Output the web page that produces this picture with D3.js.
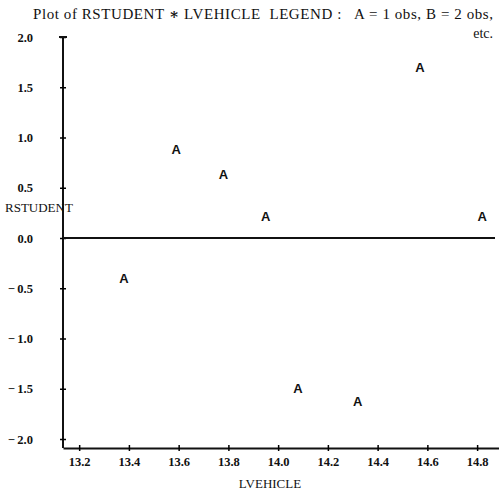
<!DOCTYPE html>
<html>
<head>
<meta charset="utf-8">
<script src="https://cdn.jsdelivr.net/npm/d3@7"></script>
<style>
  body { margin: 0; background: #fff; }
  text { font-family: "Liberation Serif", "DejaVu Serif", serif; fill: #111; }
  .pt { font-family: "Liberation Sans", Arial, sans-serif; font-weight: bold; font-size: 13px; }
</style>
</head>
<body>
<div id="plot"></div>
<script>
// svg params
var svgWidth = 499;
var svgHeight = 494;

// data
var lvehicle = [13.38, 13.59, 13.78, 13.95, 14.08, 14.32, 14.57, 14.82];
var rstudent = [-0.40, 0.88, 0.63, 0.21, -1.50, -1.63, 1.70, 0.21];
var symbols = ["A", "A", "A", "A", "A", "A", "A", "A"];

// tick labels
var xTicks = [13.2, 13.4, 13.6, 13.8, 14.0, 14.2, 14.4, 14.6, 14.8];
var yTicks = [2.0, 1.5, 1.0, 0.5, 0.0, -0.5, -1.0, -1.5, -2.0];

var svg = d3.select("#plot")
    .append("svg")
    .attr("width", svgWidth)
    .attr("height", svgHeight);

/// scales
var xScale = d3.scaleLinear()
    .domain([13.135, 14.888])
    .range([63, 499]);

var yScale = d3.scaleLinear()
    .domain([2.0, -2.0])
    .range([37, 439]);

var yBottom = 448;

// minus sign with a small gap, like the printed plot
var fmt = d => (d < 0 ? "\u2212\u2009" : "") + d3.format(".1f")(Math.abs(d));

/// x axis
var xAxisG = svg.append("g")
    .attr("transform", `translate(0,${yBottom})`)
    .call(d3.axisBottom(xScale).tickValues(xTicks).tickFormat(d3.format(".1f")).tickSizeOuter(0).tickPadding(5));

xAxisG.select(".domain").attr("stroke-width", 2).attr("stroke", "#111");
xAxisG.selectAll(".tick line").attr("y1", -3).attr("y2", 3).attr("stroke-width", 1.5);
xAxisG.selectAll(".tick text").attr("y", 9).attr("dy", "0.71em");

/// y axis
var yAxisG = svg.append("g")
    .attr("transform", `translate(${xScale.range()[0]},0)`)
    .call(d3.axisLeft(yScale).tickValues(yTicks).tickFormat(fmt).tickSizeOuter(0));

yAxisG.select(".domain")
    .attr("d", `M0,${yScale(2.0)}V${yBottom}`)
    .attr("stroke-width", 2)
    .attr("stroke", "#111");
yAxisG.selectAll(".tick line").attr("x1", -3).attr("x2", 3).attr("stroke-width", 1.5);
yAxisG.selectAll(".tick text").attr("x", -30);

// serif bold tick labels
svg.selectAll(".tick text")
    .style("font-family", "'Liberation Serif', serif")
    .style("font-weight", "bold")
    .style("font-size", "12.5px")
    .style("fill", "#111");

// cap on top of y axis
yAxisG.append("line")
    .attr("x1", -4).attr("x2", 4)
    .attr("y1", yScale(2.0)).attr("y2", yScale(2.0))
    .attr("stroke", "#111").attr("stroke-width", 2);

/// zero reference line
svg.append("line")
    .attr("x1", xScale.range()[0])
    .attr("x2", 495)
    .attr("y1", yScale(0))
    .attr("y2", yScale(0))
    .attr("stroke", "#111")
    .attr("stroke-width", 2);

/// plotting symbols
svg.selectAll(".pt")
    .data(lvehicle)
    .enter()
    .append("text")
    .attr("class", "pt")
    .attr("x", (d, i) => xScale(d))
    .attr("y", (d, i) => yScale(rstudent[i]))
    .attr("dy", "0.35em")
    .attr("text-anchor", "middle")
    .text((d, i) => symbols[i]);

/// labels
svg.append("text")
    .attr("x", 5)
    .attr("y", 212)
    .style("font-size", "13px")
    .text("RSTUDENT");

svg.append("text")
    .attr("x", 270)
    .attr("y", 488)
    .attr("text-anchor", "middle")
    .style("font-size", "13px")
    .text("LVEHICLE");

/// title
var title = svg.append("text")
    .attr("x", 33)
    .attr("y", 19)
    .attr("textLength", 460)
    .attr("lengthAdjust", "spacing")
    .style("font-size", "15px")
    .style("white-space", "pre");
title.append("tspan").text("Plot of RSTUDENT ");
title.append("tspan").style("font-weight", "bold").text("\u2217");
title.append("tspan").text(" LVEHICLE  LEGEND :   A = 1 obs, B = 2 obs,");

svg.append("text")
    .attr("x", 493)
    .attr("y", 38)
    .attr("text-anchor", "end")
    .style("font-size", "14px")
    .text("etc.");
</script>
</body>
</html>
